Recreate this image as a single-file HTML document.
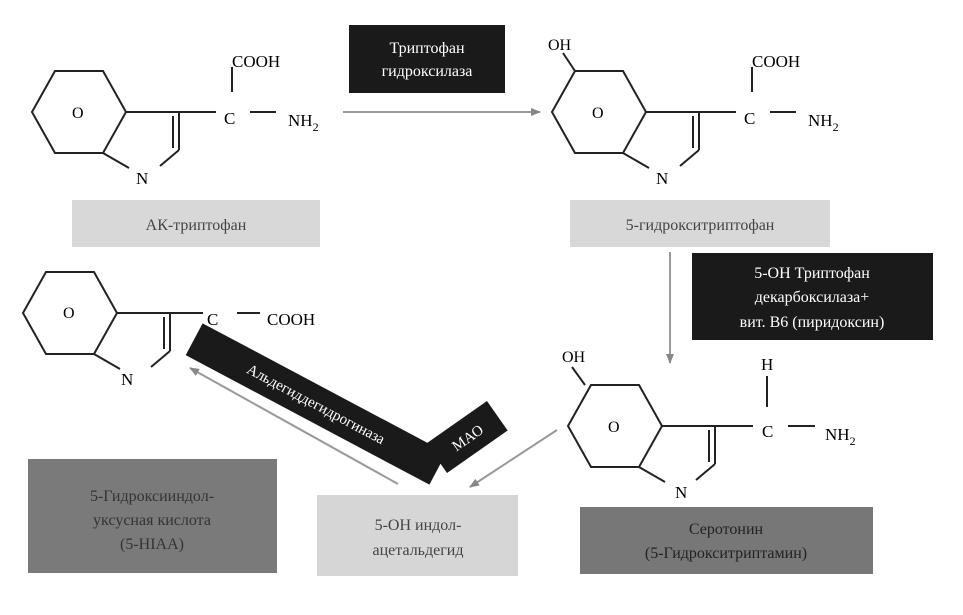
<!DOCTYPE html>
<html><head><meta charset="utf-8"><style>
html,body{margin:0;padding:0;background:#fff;}
svg{display:block;}
text{font-family:"Liberation Serif","DejaVu Serif",serif;}
</style></head><body>
<svg width="963" height="615" viewBox="0 0 963 615" xmlns="http://www.w3.org/2000/svg">
<defs>
<marker id="ah" markerWidth="10" markerHeight="8" refX="9" refY="4" orient="auto" markerUnits="userSpaceOnUse">
<path d="M0,0 L10,4 L0,8 z" fill="#888"/></marker>
<g id="mol" fill="none" stroke="#222" stroke-width="2">
<path d="M0,0 L23,-41 L71,-41 L94,0 L71,41 L23,41 Z"/>
<path d="M94,0 L147,0 M147,0 L147,38 M141,4 L141,36 M147,38 L128,54 M71,41 L97,56"/>
</g>
</defs>

<!-- boxes -->
<rect x="72" y="200" width="248" height="47" fill="#d8d8d8"/>
<text x="196" y="230" font-size="16" text-anchor="middle" fill="#444">АК-триптофан</text>
<rect x="349" y="25" width="156" height="68" fill="#1a1a1a"/>
<text x="427" y="53" font-size="16" text-anchor="middle" fill="#fff">Триптофан</text>
<text x="427" y="76" font-size="16" text-anchor="middle" fill="#fff">гидроксилаза</text>
<rect x="570" y="200" width="260" height="47" fill="#d8d8d8"/>
<text x="700" y="230" font-size="16" text-anchor="middle" fill="#444">5-гидрокситриптофан</text>
<rect x="692" y="253" width="241" height="87" fill="#1a1a1a"/>
<text x="812" y="278" font-size="16" text-anchor="middle" fill="#fff">5-ОН Триптофан</text>
<text x="812" y="302" font-size="16" text-anchor="middle" fill="#fff">декарбоксилаза+</text>
<text x="812" y="327" font-size="16" text-anchor="middle" fill="#fff">вит. В6 (пиридоксин)</text>
<rect x="580" y="507" width="293" height="67" fill="#777"/>
<text x="726" y="534" font-size="16" text-anchor="middle" fill="#222">Серотонин</text>
<text x="726" y="558" font-size="16" text-anchor="middle" fill="#222">(5-Гидрокситриптамин)</text>
<rect x="317" y="495" width="201" height="81" fill="#d6d6d6"/>
<text x="418" y="530" font-size="16" text-anchor="middle" fill="#444">5-ОН индол-</text>
<text x="418" y="555" font-size="16" text-anchor="middle" fill="#444">ацетальдегид</text>
<rect x="28" y="459" width="249" height="114" fill="#7a7a7a"/>
<text x="152" y="501" font-size="16" text-anchor="middle" fill="#333">5-Гидроксииндол-</text>
<text x="152" y="525" font-size="16" text-anchor="middle" fill="#333">уксусная кислота</text>
<text x="152" y="549" font-size="16" text-anchor="middle" fill="#333">(5-HIAA)</text>

<!-- rotated boxes -->
<g transform="translate(316,404) rotate(28)">
<rect x="-138" y="-18" width="276" height="36" fill="#1a1a1a"/>
<text x="0" y="5" font-size="15" text-anchor="middle" fill="#fff">Альдегиддегидрогиназа</text>
</g>
<g transform="translate(467,437) rotate(-35)">
<rect x="-37" y="-18" width="74" height="36" fill="#1a1a1a"/>
<text x="0" y="6" font-size="15" text-anchor="middle" fill="#fff">МАО</text>
</g>

<!-- arrows -->
<g stroke="#999" stroke-width="2" fill="none">
<line x1="343" y1="112" x2="540" y2="112" marker-end="url(#ah)"/>
<line x1="670" y1="252" x2="670" y2="363" marker-end="url(#ah)"/>
<line x1="557" y1="430" x2="470" y2="487" marker-end="url(#ah)"/>
<line x1="398" y1="484" x2="190" y2="368" marker-end="url(#ah)"/>
</g>

<!-- molecule 1 -->
<use href="#mol" x="32" y="112"/>
<g stroke="#222" stroke-width="2">
<line x1="179" y1="112" x2="216" y2="112"/>
<line x1="250" y1="112" x2="276" y2="112"/>
<line x1="232" y1="67" x2="232" y2="92"/>
</g>
<text x="224" y="124" font-size="17">C</text>
<text x="288" y="126" font-size="17">NH<tspan font-size="12" dy="5">2</tspan></text>
<text x="232" y="67" font-size="17">COOH</text>
<text x="72" y="118" font-size="16">O</text>
<text x="136" y="184" font-size="17">N</text>

<!-- molecule 2 -->
<use href="#mol" x="552" y="112"/>
<g stroke="#222" stroke-width="2">
<line x1="699" y1="112" x2="736" y2="112"/>
<line x1="770" y1="112" x2="796" y2="112"/>
<line x1="752" y1="67" x2="752" y2="92"/>
<line x1="563" y1="53" x2="575" y2="71"/>
</g>
<text x="744" y="124" font-size="17">C</text>
<text x="808" y="126" font-size="17">NH<tspan font-size="12" dy="5">2</tspan></text>
<text x="752" y="67" font-size="17">COOH</text>
<text x="548" y="50" font-size="16">OH</text>
<text x="592" y="118" font-size="16">O</text>
<text x="656" y="184" font-size="17">N</text>

<!-- molecule 3 -->
<use href="#mol" x="23" y="313"/>
<g stroke="#222" stroke-width="2">
<line x1="170" y1="313" x2="203" y2="313"/>
<line x1="237" y1="313" x2="260" y2="313"/>
</g>
<text x="207" y="325" font-size="17">C</text>
<text x="267" y="325" font-size="17">COOH</text>
<text x="63" y="318" font-size="16">O</text>
<text x="121" y="385" font-size="17">N</text>

<!-- molecule 4 -->
<use href="#mol" x="568" y="426"/>
<g stroke="#222" stroke-width="2">
<line x1="715" y1="426" x2="753" y2="426"/>
<line x1="788" y1="426" x2="815" y2="426"/>
<line x1="767" y1="376" x2="767" y2="407"/>
<line x1="572" y1="367" x2="585" y2="385"/>
</g>
<text x="762" y="437" font-size="17">C</text>
<text x="825" y="440" font-size="17">NH<tspan font-size="12" dy="5">2</tspan></text>
<text x="761" y="370" font-size="17">H</text>
<text x="562" y="362" font-size="16">OH</text>
<text x="608" y="432" font-size="16">O</text>
<text x="675" y="498" font-size="17">N</text>
</svg>
</body></html>
